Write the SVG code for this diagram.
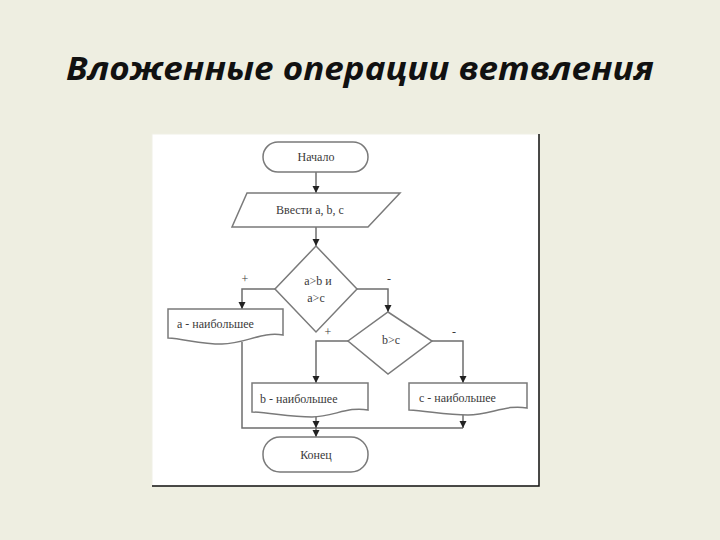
<svg xmlns="http://www.w3.org/2000/svg" width="720" height="540" viewBox="0 0 720 540">
<defs>
<marker id="ah" markerWidth="8" markerHeight="8" refX="7" refY="4" orient="auto" markerUnits="userSpaceOnUse">
<path d="M0,0.5 L7,4 L0,7.5 Z" fill="#222"/>
</marker>
<style>
.sh{fill:#fff;stroke:#7a7a7a;stroke-width:1.5}
.ln{fill:none;stroke:#6e6e6e;stroke-width:1.5}
.t{font-family:"Liberation Serif","DejaVu Serif",serif;font-size:12px;fill:#3a3a3a;text-anchor:middle}
.tl{font-family:"Liberation Serif","DejaVu Serif",serif;font-size:12px;fill:#3a3a3a}
</style>
</defs>
<rect width="720" height="540" fill="#eeeee1"/>
<text x="360" y="80" text-anchor="middle" textLength="588" lengthAdjust="spacingAndGlyphs" font-family="'Open Sans','Liberation Sans',sans-serif" font-weight="bold" font-style="italic" font-size="33" fill="#111">Вложенные операции ветвления</text>
<rect x="152" y="134" width="387" height="352" fill="#fff" stroke="#f0f0e6" stroke-width="1"/>
<path d="M539,134 V486 H152" fill="none" stroke="#111" stroke-width="1.5"/>
<g id="connectors">
<line class="ln" x1="316" y1="172" x2="316" y2="193" marker-end="url(#ah)"/>
<line class="ln" x1="316" y1="227" x2="316" y2="246" marker-end="url(#ah)"/>
<polyline class="ln" points="275,289 242,289 242,309" marker-end="url(#ah)"/>
<polyline class="ln" points="357,289 388,289 388,312" marker-end="url(#ah)"/>
<polyline class="ln" points="348,341 316,341 316,383" marker-end="url(#ah)"/>
<polyline class="ln" points="432,341 463,341 463,383" marker-end="url(#ah)"/>
<polyline class="ln" points="242,342 242,428 463,428"/>
<line class="ln" x1="463" y1="411" x2="463" y2="428" marker-end="url(#ah)"/>
<line class="ln" x1="316" y1="414" x2="316" y2="428" marker-end="url(#ah)"/>
<line class="ln" x1="316" y1="428" x2="316" y2="437" marker-end="url(#ah)"/>
<text class="t" x="245" y="283">+</text>
<text class="t" x="389" y="283">-</text>
<text class="t" x="328" y="336">+</text>
<text class="t" x="454" y="336">-</text>
</g>
<g id="start">
<rect class="sh" x="263" y="142" width="105" height="30" rx="15"/>
<text class="t" x="316" y="161">Начало</text>
</g>
<g id="input">
<polygon class="sh" points="247,193 400,193 368,227 232,227"/>
<text class="t" x="310" y="214">Ввести a, b, c</text>
</g>
<g id="cond1">
<polygon class="sh" points="316,246 357,289 316,332 275,289"/>
<text class="t" x="318" y="285">a&gt;b и</text>
<text class="t" x="316" y="302">a&gt;c</text>
</g>
<g id="outA">
<path class="sh" d="M168,309 H283 V335 C262,331 245,344 222,344 C200,344 185,339 168,338 Z"/>
<text class="tl" x="177" y="328">a - наибольшее</text>
</g>
<g id="cond2">
<polygon class="sh" points="388,312 432,341 388,374 348,341"/>
<text class="t" x="391" y="344">b&gt;c</text>
</g>
<g id="outB">
<path class="sh" d="M252,383 H368 V410 C348,406 333,417 312,417 C290,417 272,413 252,412 Z"/>
<text class="tl" x="260" y="403">b - наибольшее</text>
</g>
<g id="outC">
<path class="sh" d="M409,383 H527 V408 C506,404 490,415 468,415 C446,415 428,411 409,410 Z"/>
<text class="tl" x="419" y="402">c - наибольшее</text>
</g>
<g id="end">
<rect class="sh" x="263" y="437" width="105" height="35" rx="17"/>
<text class="t" x="316" y="459">Конец</text>
</g>
</svg>
